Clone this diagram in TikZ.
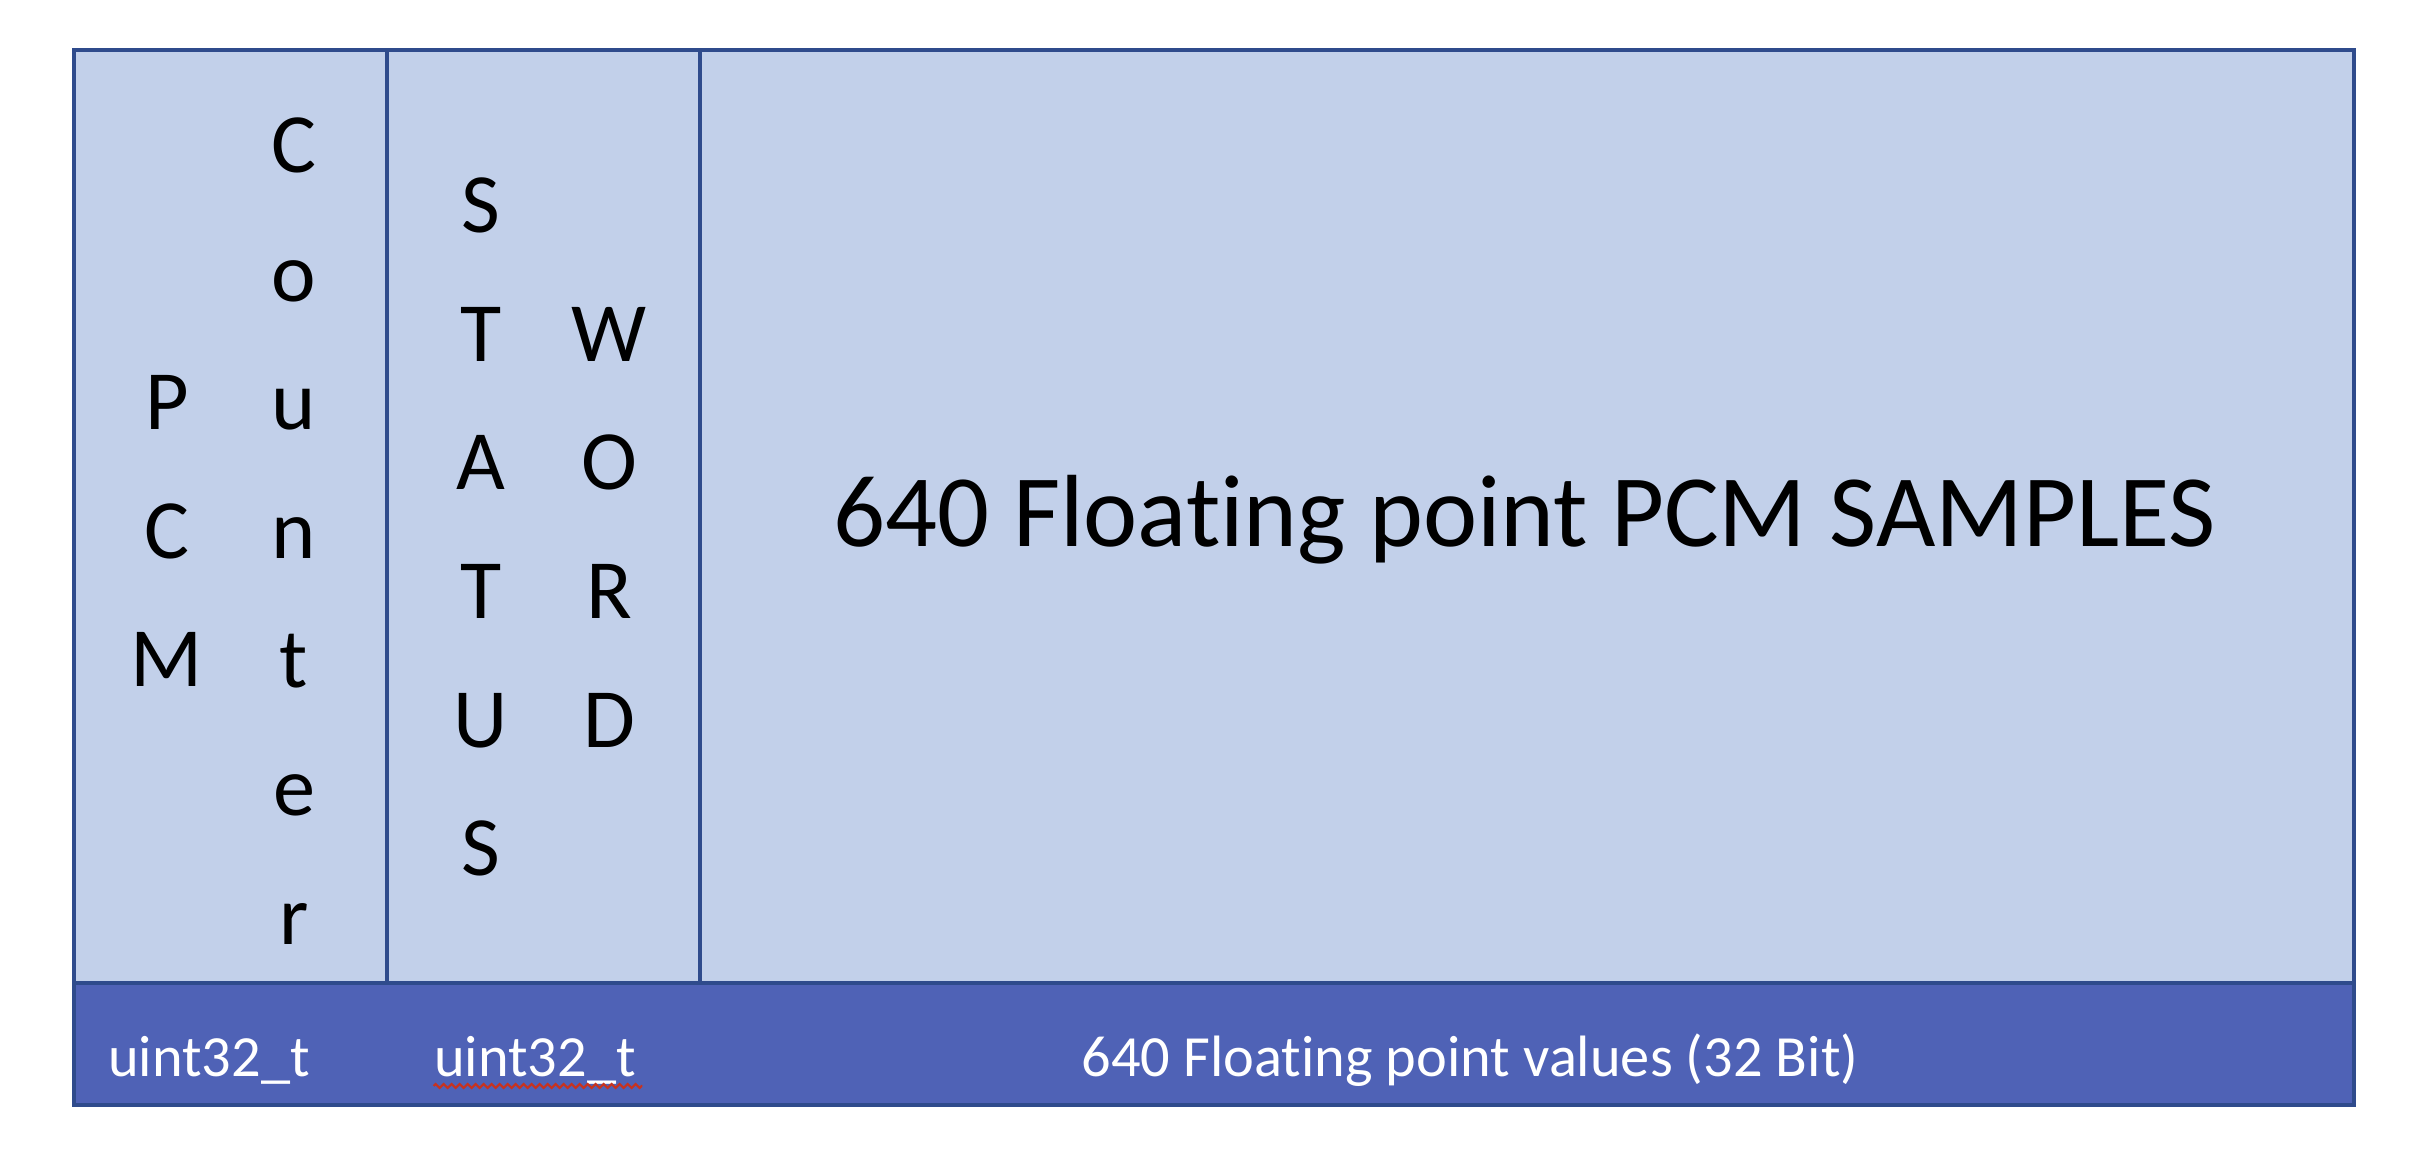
\documentclass[tikz,border=0pt]{standalone}
\usepackage{fontspec}
\setmainfont[Ligatures=NoCommon]{Carlito}
\usetikzlibrary{positioning, decorations.pathmorphing}
\definecolor{cellfill}{RGB}{194,208,234}
\definecolor{bandfill}{RGB}{79,98,182}
\definecolor{cellline}{RGB}{47,75,140}
\definecolor{spellred}{RGB}{200,50,30}

\begin{document}
\begin{tikzpicture}[x=0.1mm, y=0.1mm,
  cell/.style={draw=cellline, fill=cellfill, line width=0.9pt, inner sep=0pt, outer sep=0pt, minimum height=93.3mm},
  band/.style={draw=cellline, fill=bandfill, line width=0.9pt, inner sep=0pt, outer sep=0pt, minimum height=12.2mm, minimum width=228mm},
  stack/.style={align=center, inner sep=0pt, font=\fontsize{24pt}{36.6pt}\selectfont},
  typetext/.style={anchor=base, inner sep=0pt, text=white, font=\fontsize{16.6pt}{19pt}\selectfont},
  spellmark/.style={draw=spellred, line width=0.6pt, decorate, decoration={zigzag, amplitude=0.2mm, segment length=0.8mm}}]
  \fill[white] (0,0) rectangle (2436,1150);
  \useasboundingbox (0,0) rectangle (2436,1150);

  % top row of fields
  \node[cell, minimum width=31.3mm, anchor=north west] (pcm) at (74,1100) {};
  \node[cell, minimum width=31.3mm, right=0pt of pcm] (status) {};
  \node[cell, minimum width=165.4mm, right=0pt of status] (samples) {};
  \node[band, anchor=north west] (band) at (pcm.south west) {};

  % field names
  \node[stack] (pcmtxt) at (167,619) {P\\C\\M};
  \node[stack] (countertxt) at (294,619) {C\\o\\u\\n\\t\\e\\r};
  \node[stack] (statustxt) at (481,623) {S\\T\\A\\T\\U\\S};
  \node[stack] (wordtxt) at (609,623) {W\\O\\R\\D};
  \node[anchor=base, inner sep=0pt, font=\fontsize{29.2pt}{35pt}\selectfont] (samplestxt) at (1525,603) {640 Floating point PCM SAMPLES};

  % data types
  \node[typetext] (pcmtype) at (209,74) {uint32\_t};
  \node[typetext] (sttype) at (535,74) {uint32\_t};
  \node[typetext] (samplestype) at (1470,74) {640 Floating point values (32 Bit)};
  \draw[spellmark] ([yshift=-1mm]sttype.base west) -- ([yshift=-1mm, xshift=0.6mm]sttype.base east);
\end{tikzpicture}
\end{document}
